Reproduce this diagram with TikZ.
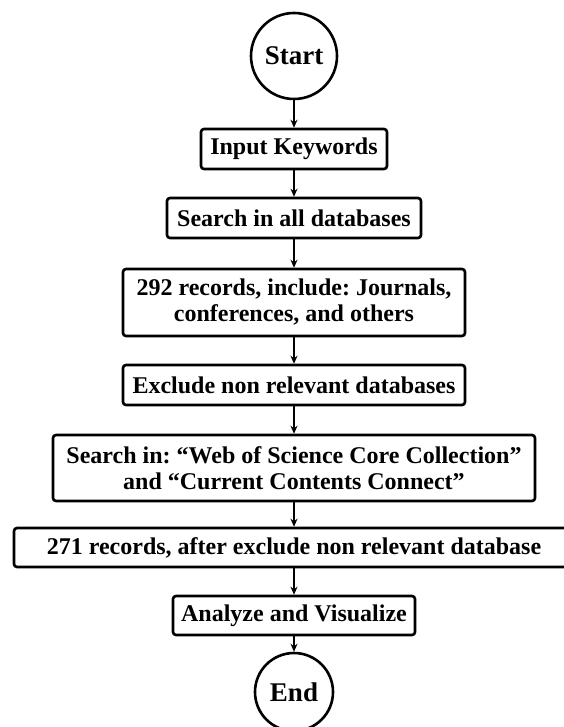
\documentclass[tikz,border=0pt]{standalone}
\usepackage{fontspec}
\setmainfont{Liberation Serif}
\usepackage{tikz}
\usetikzlibrary{arrows.meta}
\frenchspacing

\begin{document}
\begin{tikzpicture}[x=1pt,y=-1pt,
  box/.style={draw,line width=2.6pt,rounded corners=3pt,inner sep=0pt,
    minimum height=40pt,align=center,font=\fontsize{24}{26}\selectfont\bfseries},
  term/.style={draw,circle,line width=2.6pt,inner sep=0pt,
    font=\fontsize{27}{29}\selectfont\bfseries},
  link/.style={line width=1.7pt,-{Stealth[length=8pt,width=7pt]}}]
  \useasboundingbox[fill=white] (0,0) rectangle (563,727);
  % terminals and steps, top to bottom
  \node[term,minimum size=86pt] (start) at (294,56) {Start};
  \node[box,minimum width=186pt] (input) at (294,149) {Input Keywords};
  \node[box,minimum width=254pt] (search) at (294,218) {Search in all databases};
  \node[box,minimum width=342pt,minimum height=67pt] (records) at (294,302.5)
    {292 records, include: Journals,\\ conferences, and others};
  \node[box,minimum width=342pt] (exclude) at (294,385) {Exclude non relevant databases};
  \node[box,minimum width=482pt,minimum height=66pt] (searchin) at (294,468)
    {Search in: “Web of Science Core Collection”\\ and “Current Contents Connect”};
  \node[box,minimum width=560pt,minimum height=39pt] (after) at (294,547.5)
    {271 records, after exclude non relevant database};
  \node[box,minimum width=242pt,minimum height=39pt] (analyze) at (294,615.5) {Analyze and Visualize};
  \node[term,minimum size=78pt] (end) at (294,692) {End};
  % arrows
  \draw[link] (start) -- (input);
  \draw[link] (input) -- (search);
  \draw[link] (search) -- (records);
  \draw[link] (records) -- (exclude);
  \draw[link] (exclude) -- (searchin);
  \draw[link] (searchin) -- (after);
  \draw[link] (after) -- (analyze);
  \draw[link] (analyze) -- (end);
\end{tikzpicture}
\end{document}
